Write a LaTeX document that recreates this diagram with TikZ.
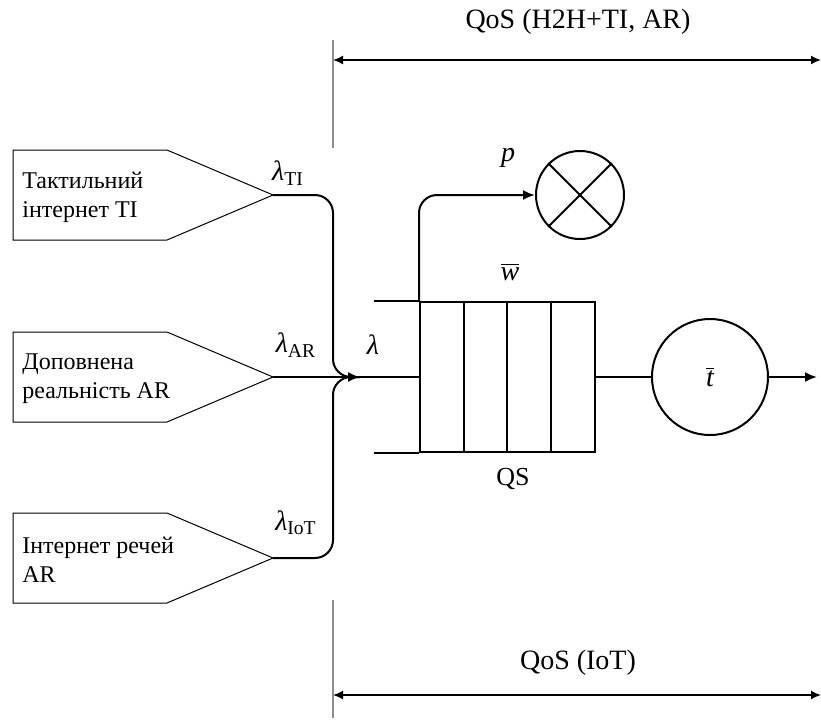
\documentclass[tikz,border=0pt]{standalone}
\usepackage{fontspec}
\setmainfont{Liberation Serif}
\usetikzlibrary{arrows.meta,positioning,calc}

\begin{document}
\begin{tikzpicture}[
  x=0.5pt, y=-0.5pt,
  font=\fontsize{12}{14.5}\selectfont,
  srcbox/.style ={draw, line width=0.5pt},
  srctext/.style={anchor=west, align=left, inner sep=0pt},
  line/.style   ={line width=1pt, draw=black},
  flow/.style   ={line, -{Latex[length=6pt,width=5pt]}},
  cell/.style   ={line, minimum width=87.5pt, minimum height=75pt, inner sep=0pt},
  ring/.style   ={line, circle, inner sep=0pt},
  sep/.style    ={draw=black!45, line width=1pt},
  span/.style   ={line width=0.8pt, {Latex[length=5pt,width=4.5pt]}-{Latex[length=5pt,width=4.5pt]}},
  qos/.style    ={font=\fontsize{14}{16}\selectfont, inner sep=0pt},
  sym/.style    ={font=\fontsize{14}{16}\selectfont, inner sep=0pt}
]
\useasboundingbox (0,0) rectangle (821,725);

% =================== SOURCES ===================
\foreach \y/\nm in {195/ti, 377/ar, 558/iot}{
  \draw[srcbox] (13,\y-45) -- (167,\y-45) -- (273,\y) -- (167,\y+45) -- (13,\y+45) -- cycle;
  \coordinate (\nm) at (273,\y);
}
\node[srctext] (titext)  at (22,197) {Тактильний\\інтернет TI};
\node[srctext] (artext)  at (22,379) {Доповнена\\реальність AR};
\node[srctext] (iottext) at (22,560) {Інтернет речей\\AR};

\node[sym] (lti)  at (288,173) {{\itshape λ}\textsubscript{TI}};
\node[sym] (lar)  at (296,345) {{\itshape λ}\textsubscript{AR}};
\node[sym] (liot) at (296,523) {{\itshape λ}\textsubscript{IoT}};

% =================== MERGE ===================
\coordinate (bus) at (333,377);
\coordinate (jn)  at (360,377);
\draw[line, rounded corners=9pt] (ti) -| (bus) -- (jn);
\draw[line, rounded corners=9pt] (iot) -| (bus) -- (jn);
\draw[flow] (ar) -- (jn);
\node[sym] (lam) at (373,345) {\itshape λ};

% =================== QUEUE ===================
\node[cell] (qs) at (507.5,377) {};
\foreach \x in {464,507,551}
  \draw[line] (\x,302) -- (\x,452);
\draw[line] (qs.north west) -- ++(-45,0);
\draw[line] (qs.south west) -- ++(-45,0);
\draw[line] (jn) -- (qs.west);
\node[sym] (wbar) at (510,272) {$\overline{\mbox{\itshape w}}$};
\node[font=\fontsize{13}{15}\selectfont, inner sep=0pt] (qslbl) at (513,479) {QS};

% =================== LOSS ===================
\node[ring, minimum size=44pt] (loss) at (580,195) {};
\draw[line] (loss.north west) -- (loss.south east);
\draw[line] (loss.north east) -- (loss.south west);
\draw[flow, rounded corners=9pt] (qs.north west) |- (loss.west);
\node[sym] (plbl) at (508,158) {\itshape p};

% =================== SERVER ===================
\node[ring, sym, minimum size=58pt] (srv) at (710,377) {$\overline{\mbox{\itshape t}}$};
\coordinate (out) at (817,377);
\draw[line] (qs.east) -- (srv.west);
\draw[flow] (srv.east) -- (out);

% =================== QoS SPANS ===================
\coordinate (topa) at (333,60);
\coordinate (topb) at (821,60);
\coordinate (bota) at (333,695);
\coordinate (botb) at (821,695);
\draw[sep] (333,40) -- (333,148);
\draw[sep] (333,600) -- (333,718);
\draw[span] (topa) -- (topb);
\draw[span] (bota) -- (botb);
\node[qos] (qtop) at (578,22) {QoS (H2H+TI, AR)};
\node[qos] (qbot) at (578,663) {QoS (IoT)};

\end{tikzpicture}
\end{document}
